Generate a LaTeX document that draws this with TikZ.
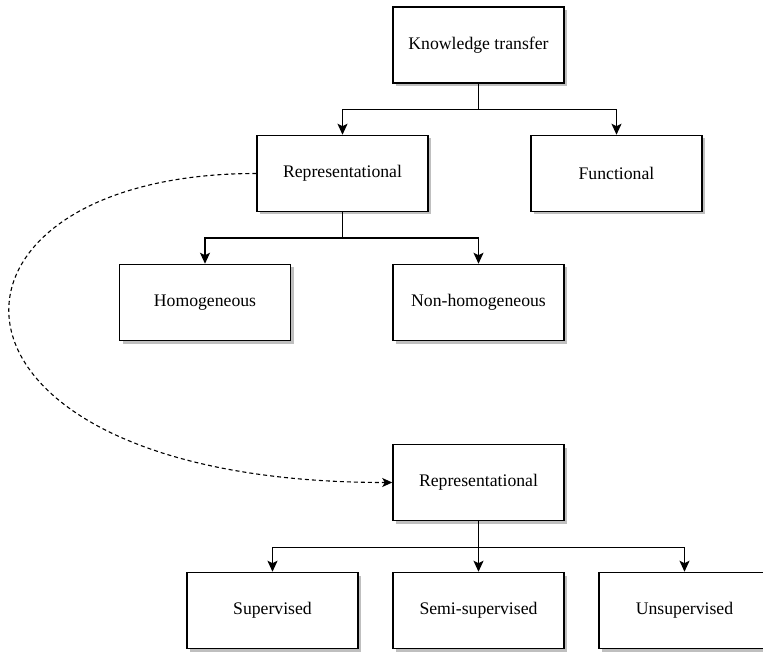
\documentclass[tikz,border=0pt]{standalone}
\usepackage{fontspec}
\setmainfont{Liberation Serif}
\usepackage{xcolor}
\usepackage{tikz}
\usetikzlibrary{arrows.meta,positioning,shadows}
\definecolor{shadowgray}{gray}{0.75}
\tikzset{
  catbox/.style={draw,line width=1.5pt,fill=white,minimum width=171pt,
                 minimum height=76pt,inner sep=0pt,
                 drop shadow={shadow xshift=3pt,shadow yshift=-3pt,
                              fill=shadowgray,opacity=1}},
  treeedge/.style={-{Stealth[length=11pt,width=10pt,inset=2.5pt]},line width=1.5pt},
  linkedge/.style={-{Stealth[length=10pt,width=9pt,inset=2.5pt]},line width=1.1pt,
                   dash pattern=on 4pt off 3pt},
}

\begin{document}
\begin{tikzpicture}[x=1pt,y=-1pt,font=\fontsize{17.7}{21}\selectfont]
  \useasboundingbox (0,0) rectangle (763,652);
  % upper tree
  \node[catbox] (kt)      at (478.5,45)    {Knowledge transfer};
  \node[catbox] (rep)     at (342.5,173.5) {Representational};
  \node[catbox] (func)    at (616.5,173.5) {Functional};
  \node[catbox] (homo)    at (205,302.5)   {Homogeneous};
  \node[catbox] (nonhomo) at (478.5,302.5) {Non-homogeneous};
  % lower tree
  \node[catbox] (rep2)    at (478.5,482.5) {Representational};
  \node[catbox] (sup)     at (272.5,610.5) {Supervised};
  \node[catbox] (semi)    at (478.5,610.5) {Semi-supervised};
  \node[catbox] (unsup)   at (684.5,610.5) {Unsupervised};

  \draw[treeedge] (kt.south) -- ++(0,26) -| (rep.north);
  \draw[treeedge] (kt.south) -- ++(0,26) -| (func.north);
  \draw[treeedge] (rep.south) -- ++(0,26) -| (homo.north);
  \draw[treeedge] (rep.south) -- ++(0,26) -| (nonhomo.north);
  \draw[treeedge] (rep2.south) -- ++(0,26) -| (sup.north);
  \draw[treeedge] (rep2.south) -- ++(0,26) -| (semi.north);
  \draw[treeedge] (rep2.south) -- ++(0,26) -| (unsup.north);

  \draw[linkedge] (rep.west) .. controls +(-348,0) and +(-486,0) .. (rep2.west);
\end{tikzpicture}
\end{document}
